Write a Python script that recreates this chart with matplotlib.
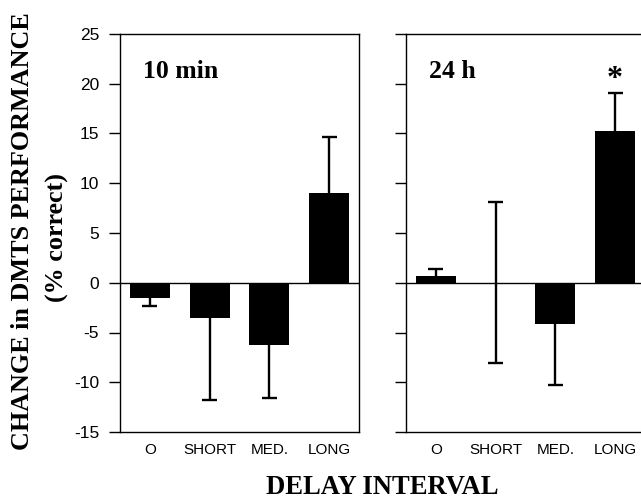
import matplotlib
matplotlib.use("Agg")
import matplotlib.pyplot as plt

categories = ["O", "SHORT", "MED.", "LONG"]
panel_titles = ["10 min", "24 h"]
means_10min = [-1.5, -3.5, -6.3, 9.05]
err_lo_10min = [0.8, 8.3, 5.3, 0.0]
err_hi_10min = [0.0, 0.0, 0.0, 5.55]
means_24h = [0.7, 0.0, -4.1, 15.3]
err_lo_24h = [0.0, 8.1, 6.2, 0.0]
err_hi_24h = [0.7, 8.1, 0.0, 3.8]
yticks = [-15, -10, -5, 0, 5, 10, 15, 20, 25]
star_y = 20.4

W, H = 641, 504
fig = plt.figure(figsize=(W / 100, H / 100), dpi=100)

def rect(x0, y0, x1, y1):
    return [x0 / W, 1 - y1 / H, (x1 - x0) / W, (y1 - y0) / H]

ax1 = fig.add_axes(rect(120, 34, 359, 432))
ax2 = fig.add_axes(rect(406, 34, 645, 432))

sans = "Liberation Sans"
serif = "Liberation Serif"
cap_half = 0.125

data = [(means_10min, err_lo_10min, err_hi_10min), (means_24h, err_lo_24h, err_hi_24h)]
for i, (ax, (m, lo, hi)) in enumerate(zip([ax1, ax2], data)):
    x = list(range(len(categories)))
    ax.bar(x, m, width=0.667, color="black", zorder=2)
    for xi, mi, l, h in zip(x, m, lo, hi):
        for end in ([mi - l] if l > 0 else []) + ([mi + h] if h > 0 else []):
            ax.vlines(xi, mi, end, color="black", lw=1.7, zorder=3)
            ax.hlines(end, xi - cap_half, xi + cap_half, color="black", lw=1.7, zorder=3)
    ax.axhline(0, color="black", lw=1.0, zorder=4)
    ax.set_xlim(-0.5, 3.5)
    ax.set_ylim(-15, 25)
    ax.set_yticks(yticks)
    ax.set_xticks(x)
    ax.set_xticklabels(categories, fontsize=11, family=sans)
    ax.tick_params(axis="x", length=0, pad=8)
    ax.tick_params(axis="y", direction="out", length=8, width=1.0, pad=7)
    for s in ax.spines.values():
        s.set_linewidth(1.0)
    if i == 0:
        ax.set_yticklabels([str(t) for t in yticks], fontsize=12.5, family=sans)
    else:
        ax.set_yticklabels([])
    ax.text(0.095, 0.905, panel_titles[i], transform=ax.transAxes, fontsize=18.5,
            fontweight="bold", family=serif, ha="left", va="center")

ax2.text(3, star_y, "*", fontsize=23, fontweight="bold", family=serif,
         ha="center", va="center")

fig.text(23 / W, 1 - 231 / H, "CHANGE in DMTS PERFORMANCE", rotation=90,
         fontsize=18.8, fontweight="bold", family=serif, ha="center", va="center")
fig.text(57 / W, 1 - 237 / H, "(% correct)", rotation=90,
         fontsize=18.8, fontweight="bold", family=serif, ha="center", va="center")
fig.text(382 / W, 1 - 487 / H, "DELAY INTERVAL", fontsize=19.2,
         fontweight="bold", family=serif, ha="center", va="center")

fig.savefig("out.png", dpi=100)
